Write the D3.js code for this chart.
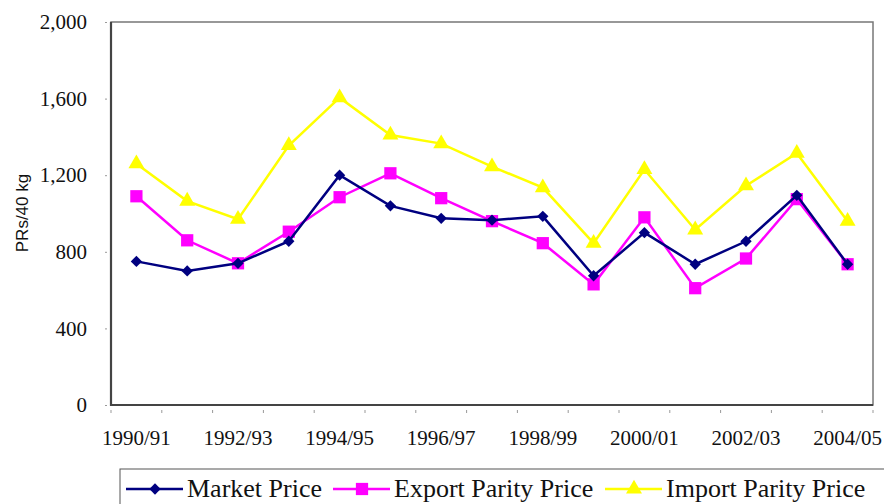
<!DOCTYPE html>
<html>
<head>
<meta charset="utf-8">
<script src="https://cdn.jsdelivr.net/npm/d3@7"></script>
<style>
  body { margin: 0; background: #fff; }
  svg { display: block; }
  .serif { font-family: "Liberation Serif", "Times New Roman", Times, serif; }
  .sans { font-family: "Liberation Sans", Arial, Helvetica, sans-serif; }
</style>
</head>
<body>
<svg width="884" height="504"></svg>
<script>
const years = ["1990/91","1991/92","1992/93","1993/94","1994/95","1995/96","1996/97","1997/98",
               "1998/99","1999/00","2000/01","2001/02","2002/03","2003/04","2004/05"];
const marketPrice = [750, 700, 740, 855, 1200, 1040, 975, 965, 985, 675, 900, 735, 855, 1095, 735];
const exportParity = [1090, 860, 740, 905, 1085, 1210, 1080, 960, 845, 630, 980, 610, 765, 1075, 735];
const importParity = [1260, 1065, 970, 1355, 1605, 1410, 1365, 1245, 1135, 845, 1230, 915, 1145, 1315, 960];
const yTicks = [0, 400, 800, 1200, 1600, 2000];

const svg = d3.select("svg");
const m = { left: 111, top: 22, right: 873, bottom: 405 };

const x = d3.scaleBand().domain(years).range([m.left, m.right]);
const y = d3.scaleLinear().domain([0, 2000]).range([m.bottom, m.top]);

// frame
svg.append("rect")
  .attr("x", m.left).attr("y", m.top)
  .attr("width", m.right - m.left).attr("height", m.bottom - m.top)
  .attr("fill", "none").attr("stroke", "#777").attr("stroke-width", 1.5);
svg.append("path")
  .attr("d", `M${m.left},${m.top}V${m.bottom}H${m.right}`)
  .attr("fill", "none").attr("stroke", "#444").attr("stroke-width", 2.2);

// y axis
const yAxis = svg.append("g")
  .attr("transform", `translate(${m.left - 4},0)`)
  .call(d3.axisLeft(y).tickValues(yTicks).tickFormat(d3.format(",")).tickSize(2).tickPadding(18));
yAxis.attr("font-family", null);
yAxis.select(".domain").remove();
yAxis.selectAll("line").attr("stroke", "#999");
yAxis.selectAll("text")
  .attr("class", "serif").attr("font-size", 21).attr("fill", "#111");

// x axis: ticks at category boundaries, labels every other year
const xTickPos = years.map(d => x(d)).concat([m.right]);
svg.append("g").selectAll("line")
  .data(xTickPos).enter().append("line")
  .attr("x1", d => d).attr("x2", d => d)
  .attr("y1", m.bottom + 5).attr("y2", m.bottom + 8)
  .attr("stroke", "#999");
svg.append("g").selectAll("text")
  .data(years.filter((d, i) => i % 2 === 0)).enter().append("text")
  .attr("class", "serif")
  .attr("x", d => x(d) + x.bandwidth() / 2)
  .attr("y", 445)
  .attr("text-anchor", "middle")
  .attr("font-size", 21).attr("fill", "#111")
  .text(d => d);

// y label
svg.append("text")
  .attr("class", "sans")
  .attr("transform", "translate(28,213) rotate(-90)")
  .attr("text-anchor", "middle")
  .attr("font-size", 17).attr("fill", "#111")
  .text("PRs/40 kg");

const series = [
  { name: "Market Price", values: marketPrice, color: "#000080", symbol: d3.symbolSquare, size: 64, rot: 45 },
  { name: "Export Parity Price", values: exportParity, color: "#ff00ff", symbol: d3.symbolSquare, size: 150, rot: 0 },
  { name: "Import Parity Price", values: importParity, color: "#ffff00", symbol: d3.symbolTriangle, size: 110, rot: 0 }
];

const line = d3.line()
  .x((d, i) => x(years[i]) + x.bandwidth() / 2)
  .y(d => y(d));

// draw import first, then export, then market on top
[series[2], series[1], series[0]].forEach(s => {
  const g = svg.append("g");
  g.append("path")
    .attr("d", line(s.values))
    .attr("fill", "none").attr("stroke", s.color).attr("stroke-width", 2.5);
  g.selectAll("path.pt")
    .data(s.values).enter().append("path")
    .attr("class", "pt")
    .attr("transform", (d, i) => `translate(${x(years[i]) + x.bandwidth() / 2},${y(d)}) rotate(${s.rot})`)
    .attr("d", d3.symbol().type(s.symbol).size(s.size))
    .attr("fill", s.color);
});

// legend
const lg = svg.append("g");
lg.append("rect")
  .attr("x", 120).attr("y", 469).attr("width", 780).attr("height", 45)
  .attr("fill", "#fff").attr("stroke", "#555").attr("stroke-width", 1);
const legendX = [126, 333, 605];
series.forEach((s, i) => {
  const lx = legendX[i];
  lg.append("line")
    .attr("x1", lx).attr("x2", lx + 57).attr("y1", 489).attr("y2", 489)
    .attr("stroke", s.color).attr("stroke-width", 2.5);
  lg.append("path")
    .attr("transform", `translate(${lx + 29},489) rotate(${s.rot})`)
    .attr("d", d3.symbol().type(s.symbol).size(s.size))
    .attr("fill", s.color);
  lg.append("text")
    .attr("class", "serif")
    .attr("x", lx + 61).attr("y", 497)
    .attr("font-size", 26).attr("fill", "#111")
    .text(s.name);
});
</script>
</body>
</html>
